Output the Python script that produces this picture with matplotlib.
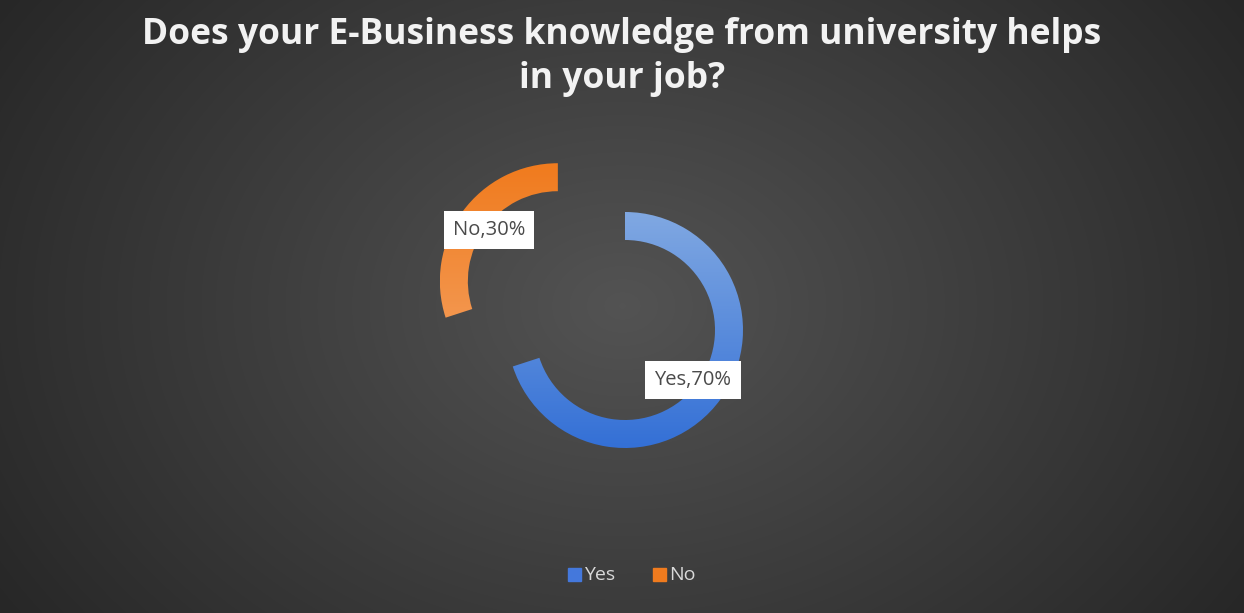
import matplotlib.pyplot as plt
import numpy as np
from matplotlib.colors import LinearSegmentedColormap

# Data
categories = ["Yes", "No"]
percent = [70, 30]
title = "Does your E-Business knowledge from university helps\nin your job?"

W, H = 1244, 613
fig = plt.figure(figsize=(W / 100, H / 100), dpi=100)
ax = fig.add_axes([0, 0, 1, 1])

# Radial background
yy, xx = np.mgrid[0:H, 0:W]
rr = np.sqrt(((xx - W / 2) / (W * 0.62)) ** 2 + ((yy - H * 0.5) / (H * 0.95)) ** 2)
bg = np.clip(rr, 0, 1)
bg_cmap = LinearSegmentedColormap.from_list("bg", ["#535353", "#3d3d3d", "#272727"])
ax.imshow(bg, cmap=bg_cmap, extent=[0, W, 0, H], origin='lower', zorder=0, aspect='auto')

# Donut (pixel coords, y up)
cx, cy, r = 625, H - 330, 118
wedges, _ = ax.pie(percent, radius=r, center=(cx, cy), startangle=90, counterclock=False,
                   explode=[0, 83], wedgeprops=dict(width=28, linewidth=0),
                   frame=True)
ax.set_xlim(0, W)
ax.set_ylim(0, H)
ax.set_aspect('auto')
ax.axis('off')

grads = [["#3470d6", "#80a8e2"], ["#f5a466", "#f07b1e"]]  # bottom -> top
for w, g in zip(wedges, grads):
    w.set_facecolor('none')
    x0, y0 = w.center
    cm = LinearSegmentedColormap.from_list("g", g)
    im = ax.imshow(np.linspace(0, 1, 100).reshape(-1, 1), cmap=cm, origin='lower',
                   extent=[x0 - r, x0 + r, y0 - r, y0 + r], zorder=2, aspect='auto')
    im.set_clip_path(w)

# Data labels
label_pos = [(693, H - 380), (489, H - 230)]
for (lx, ly), cat, p in zip(label_pos, categories, percent):
    ax.text(lx, ly, f"{cat},{p}%", ha='center', va='center', fontsize=14.5,
            color='#4a4a4a', family='Open Sans', zorder=5,
            bbox=dict(boxstyle='square,pad=0.45', facecolor='white', edgecolor='none'))

# Title
fig.text(0.5, 1 - 57 / H, title, ha='center', va='center', fontsize=25.5, fontweight='bold',
         color='#f2f2f2', family='Open Sans', linespacing=1.28)

# Legend
leg_x = [568, 653]
leg_cols = ["#4478dc", "#f07b1e"]
for lx, c, cat in zip(leg_x, leg_cols, categories):
    ax.add_patch(plt.Rectangle((lx, H - 581), 13, 13, color=c, zorder=5))
    ax.text(lx + 16, H - 575, cat, ha='left', va='center', fontsize=14,
            color='#d9d9d9', family='Open Sans')

fig.savefig("out.png", dpi=100)
